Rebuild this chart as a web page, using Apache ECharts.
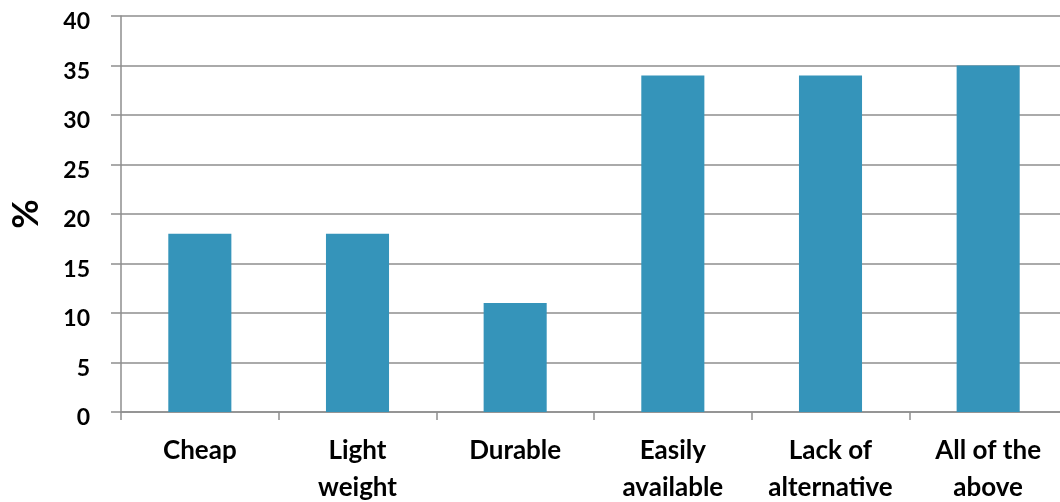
<!DOCTYPE html>
<html>
<head>
<meta charset="utf-8">
<script src="https://cdn.jsdelivr.net/npm/echarts@6/dist/echarts.min.js"></script>
<style>
html,body{margin:0;padding:0;background:#fff;}
#chart{width:1060px;height:502px;}
</style>
</head>
<body>
<div id="chart"></div>
<script>
var categories = ['Cheap', 'Light\nweight', 'Durable', 'Easily\navailable', 'Lack of\nalternative', 'All of the\nabove'];
var values = [18, 18, 11, 34, 34, 35];
var yTicks = {min: 0, max: 40, interval: 5};

var chart = echarts.init(document.getElementById('chart'));
var font = 'Lato, "Open Sans", sans-serif';
chart.setOption({
  animation: false,
  grid: {left: 121, right: -7, top: 16, bottom: 90, containLabel: false, outerBoundsMode: 'none'},
  xAxis: {
    type: 'category',
    data: categories,
    axisLine: {show: true, lineStyle: {color: '#8e8e8e', width: 1.5}},
    axisTick: {show: true, length: 8, alignWithLabel: false, lineStyle: {color: '#8e8e8e', width: 1.5}},
    axisLabel: {color: '#000', fontFamily: font, fontWeight: 'bold', fontSize: 26, lineHeight: 37, margin: 20, interval: 0}
  },
  yAxis: {
    type: 'value',
    min: yTicks.min, max: yTicks.max, interval: yTicks.interval,
    name: '%',
    nameLocation: 'middle',
    nameGap: 77,
    nameRotate: 90,
    nameTextStyle: {color: '#000', fontFamily: font, fontWeight: 'bold', fontSize: 36},
    axisLine: {show: true, lineStyle: {color: '#8e8e8e', width: 1.5}},
    axisTick: {show: true, length: 10, lineStyle: {color: '#8e8e8e', width: 1.5}},
    splitLine: {show: true, lineStyle: {color: '#8e8e8e', width: 1.5}},
    axisLabel: {color: '#000', fontFamily: font, fontWeight: 'bold', fontSize: 23, margin: 31, verticalAlign: 'top', lineHeight: 12}
  },
  series: [{
    type: 'bar',
    data: values,
    barWidth: '40%',
    itemStyle: {color: '#3594BA'}
  }]
});
</script>
</body>
</html>
